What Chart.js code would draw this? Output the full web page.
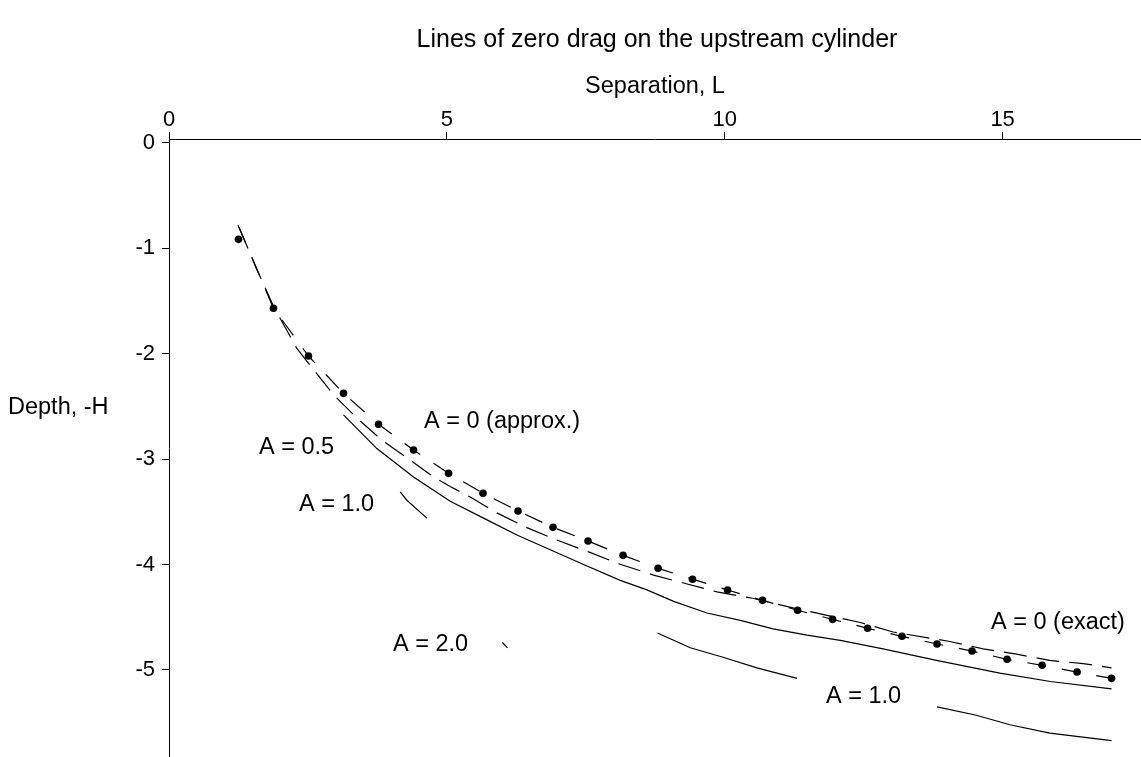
<!DOCTYPE html>
<html>
<head>
<meta charset="utf-8">
<script src="https://cdn.jsdelivr.net/npm/chart.js@4.4.1/dist/chart.umd.min.js"></script>
<style>
  html, body { margin: 0; padding: 0; background: #fff; }
  #wrap { width: 1141px; height: 757px; }
</style>
</head>
<body>
<div id="wrap"><canvas id="c" width="1141" height="757"></canvas></div>
<script>
// ---- data ----
const xTickValues = [0, 5, 10, 15];
const yTickValues = [0, -1, -2, -3, -4, -5];

// A = 0 (exact): computed points
const dotX = [1.25, 1.88, 2.51, 3.14, 3.77, 4.40, 5.03, 5.65, 6.28, 6.91, 7.54, 8.17, 8.80, 9.42, 10.05, 10.68, 11.31, 11.94, 12.57, 13.19, 13.82, 14.45, 15.08, 15.71, 16.34, 16.96];
const dotY = [-0.915, -1.569, -2.022, -2.376, -2.670, -2.914, -3.135, -3.324, -3.492, -3.647, -3.777, -3.913, -4.036, -4.139, -4.242, -4.340, -4.434, -4.520, -4.605, -4.681, -4.754, -4.821, -4.899, -4.956, -5.020, -5.080];

// dashed curve through the points
const exactCurveX = [1.24, 1.56, 1.88, 2.51, 3.14, 3.77, 4.40, 5.03, 5.65, 6.28, 6.91, 7.54, 8.17, 8.80, 9.42, 10.05, 10.68, 11.31, 11.94, 12.57, 13.19, 13.82, 14.45, 15.08, 15.71, 16.34, 16.96];
const exactCurveY = [-0.78, -1.17, -1.569, -2.022, -2.376, -2.670, -2.914, -3.135, -3.324, -3.492, -3.647, -3.777, -3.913, -4.036, -4.139, -4.242, -4.340, -4.434, -4.520, -4.605, -4.681, -4.754, -4.821, -4.899, -4.956, -5.020, -5.080];

// A = 0 (approx.): long-dashed curve
const approxX = [1.26, 1.58, 1.88, 2.30, 2.96, 3.38, 3.83, 4.34, 4.76, 5.06, 5.42, 5.90, 6.44, 6.99, 7.55, 8.13, 8.72, 9.29, 9.86, 10.50, 11.30, 12.00, 12.44, 13.03, 14.05, 14.65, 15.25, 15.85, 16.45, 16.96];
const approxY = [-0.80, -1.20, -1.55, -1.95, -2.39, -2.61, -2.82, -3.01, -3.17, -3.26, -3.36, -3.51, -3.65, -3.77, -3.88, -4.00, -4.10, -4.18, -4.26, -4.32, -4.42, -4.50, -4.55, -4.64, -4.73, -4.80, -4.85, -4.91, -4.94, -4.98];

// A = 0.5
const a05X = [3.14, 3.74, 4.40, 5.06, 5.66, 6.26, 6.86, 7.46, 8.12, 8.60, 9.08, 9.68, 10.28, 10.87, 11.48, 12.08, 12.85, 13.81, 14.95, 15.86, 16.96];
const a05Y = [-2.58, -2.90, -3.17, -3.40, -3.56, -3.72, -3.86, -4.00, -4.15, -4.24, -4.35, -4.46, -4.53, -4.61, -4.67, -4.72, -4.80, -4.91, -5.03, -5.11, -5.18];

// A = 1.0 (three separate pieces)
const a10aX = [4.16, 4.28, 4.64];
const a10aY = [-3.31, -3.39, -3.56];
const a10bX = [8.79, 9.38, 9.97, 10.58, 11.30];
const a10bY = [-4.65, -4.79, -4.88, -4.98, -5.08];
const a10cX = [13.82, 14.53, 15.13, 15.85, 16.96];
const a10cY = [-5.35, -5.43, -5.52, -5.60, -5.67];

// A = 2.0
const a20X = [6.00, 6.09];
const a20Y = [-4.74, -4.79];

// text
const titleText = 'Lines of zero drag on the upstream cylinder';
const xTitle = 'Separation, L';
const yTitle = 'Depth, -H';
const curveLabels = [
  { text: 'A = 0 (approx.)', x: 424, y: 422 },
  { text: 'A = 0.5', x: 259, y: 448 },
  { text: 'A = 1.0', x: 299, y: 505 },
  { text: 'A = 2.0', x: 393, y: 645 },
  { text: 'A = 1.0', x: 826, y: 697 },
  { text: 'A = 0 (exact)', x: 991, y: 623 }
];

// ---- build ----
const FONT = '"Liberation Sans", Arial, Helvetica, sans-serif';
const pts = (xs, ys) => xs.map((x, i) => ({ x: x, y: ys[i] }));
const lineDs = (label, xs, ys, dash) => ({
  label: label, data: pts(xs, ys), showLine: true,
  borderColor: '#000', borderWidth: 1.2, borderDash: dash || [],
  pointRadius: 0, pointHoverRadius: 0, fill: false, tension: 0
});

const textPlugin = {
  id: 'texts',
  afterDraw(chart) {
    const ctx = chart.ctx;
    ctx.save();
    ctx.fillStyle = '#000';
    ctx.textBaseline = 'middle';
    ctx.textAlign = 'center';
    ctx.font = '25px ' + FONT;
    ctx.fillText(titleText, 657, 40);
    ctx.font = '23.5px ' + FONT;
    ctx.textAlign = 'left';
    ctx.fillText(yTitle, 8, 408);
    curveLabels.forEach(l => ctx.fillText(l.text, l.x, l.y));
    ctx.restore();
  }
};

new Chart(document.getElementById('c'), {
  type: 'scatter',
  data: {
    datasets: [
      { label: 'A = 0 (exact) points', data: pts(dotX, dotY), showLine: false,
        pointRadius: 3.8, pointBackgroundColor: '#000', pointBorderColor: '#000', pointBorderWidth: 0 },
      lineDs('A = 0 (exact)', exactCurveX, exactCurveY, [19, 16]),
      lineDs('A = 0 (approx.)', approxX, approxY, [23, 10]),
      lineDs('A = 0.5', a05X, a05Y),
      lineDs('A = 1.0', a10aX, a10aY),
      lineDs('A = 1.0 ', a10bX, a10bY),
      lineDs('A = 1.0  ', a10cX, a10cY),
      lineDs('A = 2.0', a20X, a20Y)
    ]
  },
  options: {
    responsive: false,
    animation: false,
    devicePixelRatio: 1,
    layout: { padding: 0, autoPadding: false },
    plugins: { legend: { display: false }, title: { display: false }, tooltip: { enabled: false } },
    events: [],
    scales: {
      x: {
        type: 'linear', position: 'top', min: 0, max: 17.49,
        afterBuildTicks: s => { s.ticks = xTickValues.map(v => ({ value: v })); },
        afterFit: s => { s.height = 139; s.paddingLeft = 0; s.paddingRight = 0; },
        grid: { drawOnChartArea: false, drawTicks: true, tickLength: 7, color: '#000', lineWidth: 1 },
        border: { display: true, color: '#000', width: 1 },
        ticks: { color: '#000', font: { family: FONT, size: 22 }, padding: -1, maxRotation: 0, callback: v => String(v) },
        title: { display: true, text: xTitle, color: '#000', font: { family: FONT, size: 23.5 }, padding: { top: 72, bottom: 0 } }
      },
      y: {
        type: 'linear', position: 'left', min: -5.826, max: 0.037,
        afterBuildTicks: s => { s.ticks = yTickValues.map(v => ({ value: v })); },
        afterFit: s => { s.width = 169; s.paddingTop = 0; s.paddingBottom = 0; },
        grid: { drawOnChartArea: false, drawTicks: true, tickLength: 7, color: '#000', lineWidth: 1 },
        border: { display: true, color: '#000', width: 1 },
        ticks: { color: '#000', font: { family: FONT, size: 22 }, padding: 7, callback: v => String(v) },
        title: { display: false }
      }
    }
  },
  plugins: [textPlugin]
});
</script>
</body>
</html>
